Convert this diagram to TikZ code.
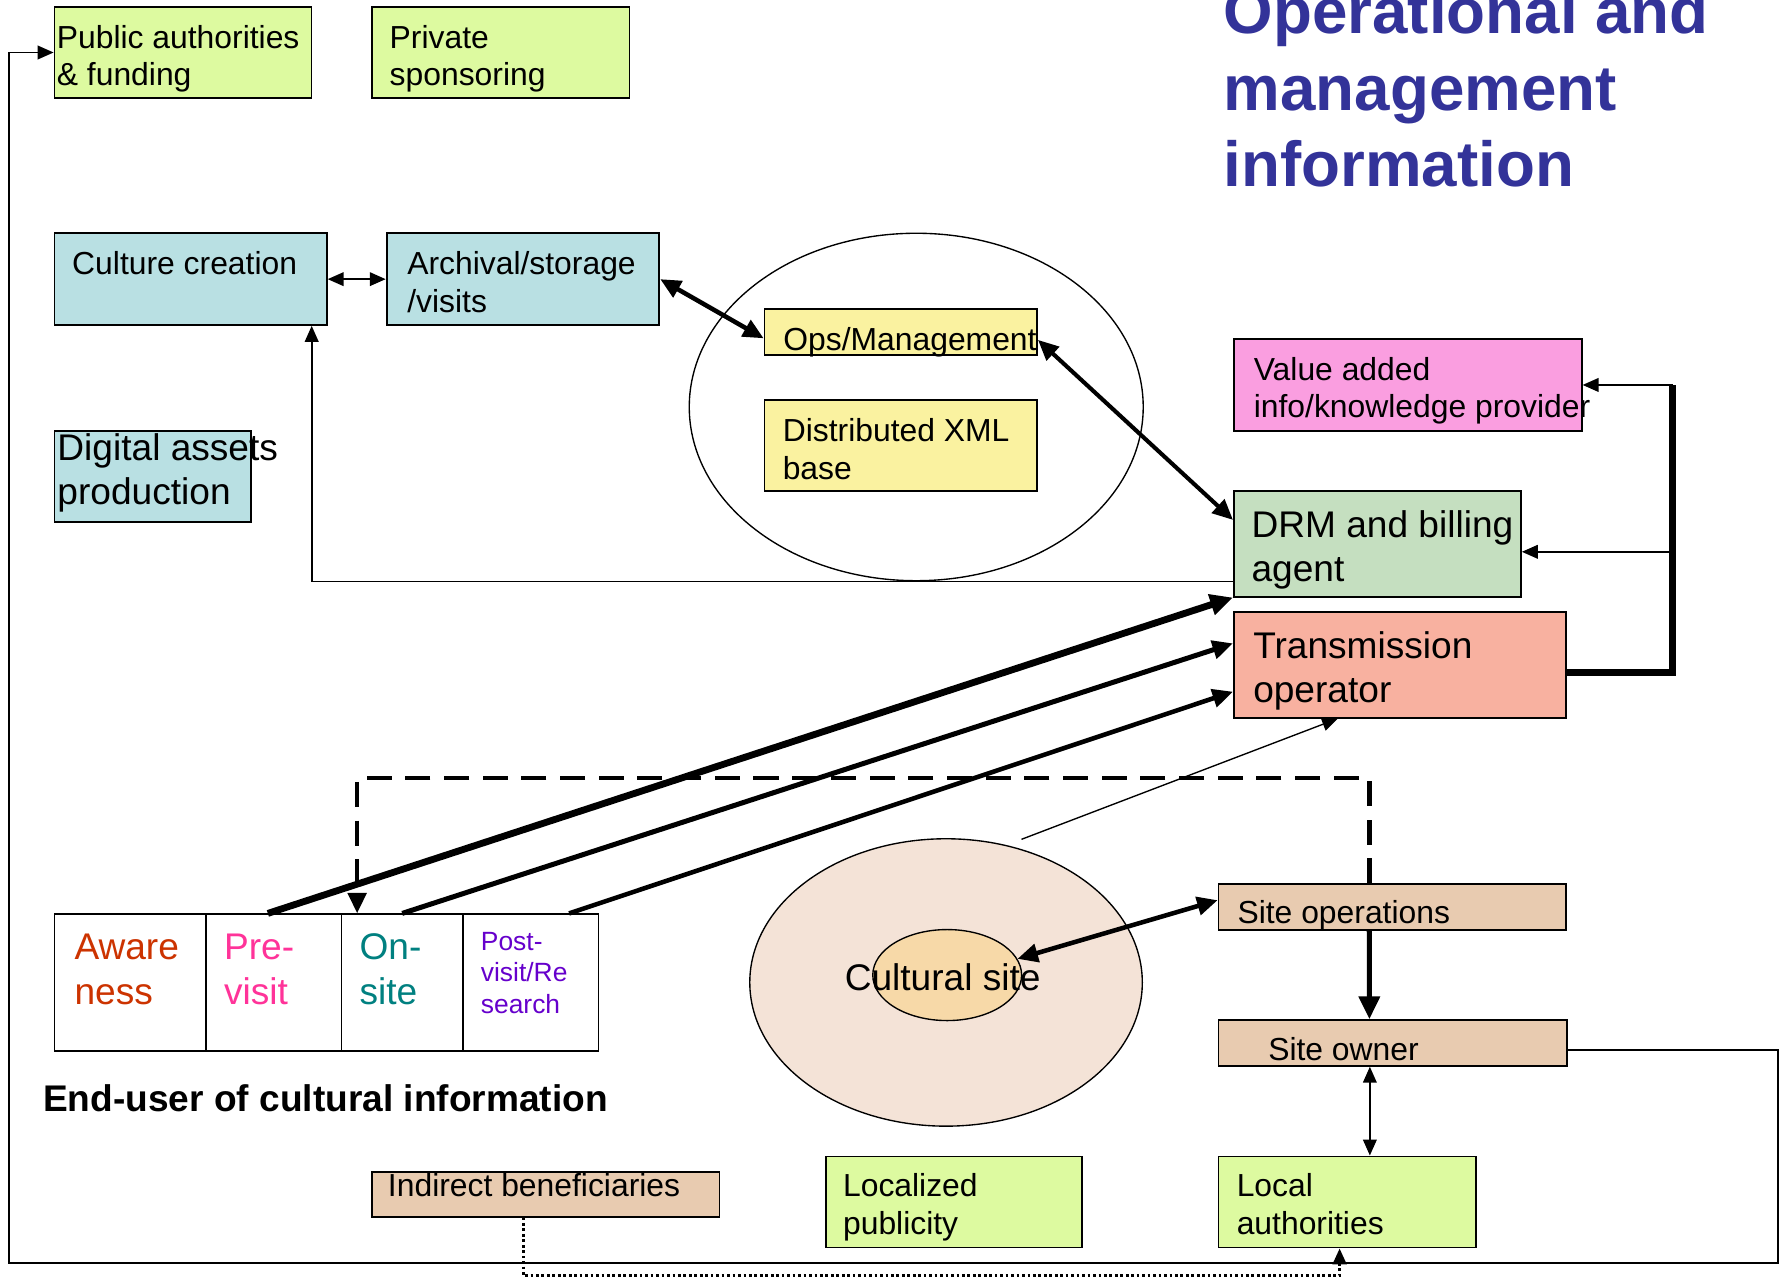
\documentclass[tikz,border=0pt]{standalone}
\usepackage{fontspec}
\setmainfont{Liberation Sans}
\usetikzlibrary{arrows.meta,fit,shapes.geometric}
\definecolor{cGreen}{RGB}{221,250,160}
\definecolor{cBlue}{RGB}{185,224,227}
\definecolor{cYellow}{RGB}{250,242,160}
\definecolor{cPink}{RGB}{250,158,224}
\definecolor{cDRM}{RGB}{197,223,192}
\definecolor{cSalmon}{RGB}{248,177,160}
\definecolor{cTan}{RGB}{232,203,176}
\definecolor{cSiteOut}{RGB}{244,227,215}
\definecolor{cSiteIn}{RGB}{247,217,168}
\definecolor{cTitle}{RGB}{51,51,153}
\definecolor{cAware}{RGB}{204,51,0}
\definecolor{cPre}{RGB}{255,51,153}
\definecolor{cOn}{RGB}{0,128,128}
\definecolor{cPost}{RGB}{102,0,204}
\tikzset{
  tipS/.tip={Triangle[length=7pt,width=6pt]},
  tipM/.tip={Triangle[length=9pt,width=8pt]},
  tipL/.tip={Triangle[length=10pt,width=9pt]},
}
\begin{document}
\begin{tikzpicture}[x=0.5pt,y=-0.5pt,
  box/.style={draw, line width=0.8pt, inner sep=0pt, rectangle},
  txt/.style={anchor=north west, inner sep=0pt, outer sep=0pt, align=left},
  fa/.style={txt, font=\fontsize{14}{16.5}\selectfont, yshift=11.55pt},
  fb/.style={txt, font=\fontsize{16.3}{19.5}\selectfont, yshift=13.65pt},
  fc/.style={txt, font=\fontsize{11.6}{14}\selectfont, yshift=9.8pt},
  ttl/.style={txt, font=\fontsize{28}{33.75}\selectfont\bfseries, text=cTitle, yshift=23.63pt},
  thinl/.style={line width=0.75pt},
  dashline/.style={line width=2pt, dash pattern=on 11pt off 6pt},
  dotline/.style={line width=1.2pt, dash pattern=on 1.2pt off 1.2pt},
  oval/.style={ellipse, draw, line width=0.6pt, inner sep=0pt},
]
\useasboundingbox (0,0) rectangle (1568,1124);

% title
\node[ttl] (title) at (1075.5,29.3) {\strut Operational and\\management\\information};

% top boxes
\node[box, fill=cGreen, fit={(47.9,5.9)(273.8,86.4)}] (pub) {};
\node[fa] (pubT) at (50,42.5) {\strut Public authorities\\\& funding};
\node[box, fill=cGreen, fit={(326.8,5.9)(553.2,86.4)}] (priv) {};
\node[fa] (privT) at (342.5,42.5) {\strut Private\\sponsoring};

\node[box, fill=cBlue, fit={(47.9,205.1)(287.2,285.6)}] (cult) {};
\node[fa] (cultT) at (63.5,241.7) {\strut Culture creation};
\node[box, fill=cBlue, fit={(339.8,205.1)(579.5,285.6)}] (arch) {};
\node[fa] (archT) at (358,241.3) {\strut Archival/storage\\/visits};
\node[box, fill=cBlue, fit={(47.9,378.5)(220.6,458.5)}] (dig) {};
\node[fb] (digT) at (50.5,404.3) {\strut Digital assets\\production};

% cloud
\node[oval, minimum width=199.5pt, minimum height=152.7pt] (cloud) at (805.3,357.7) {};
\node[box, fill=cYellow, fit={(672,271.9)(911.5,312)}] (ops) {};
\node[fa] (opsT) at (688.5,308.2) {\strut Ops/Management};
\node[box, fill=cYellow, fit={(672,351.6)(911.5,431.5)}] (xml) {};
\node[fa] (xmlT) at (688,388.2) {\strut Distributed XML\\base};

% right boxes
\node[box, fill=cPink, fit={(1084.4,298.2)(1390.2,378.5)}] (val) {};
\node[fa] (valT) at (1102,334) {\strut Value added\\info/knowledge provider};
\node[box, fill=cDRM, fit={(1084.5,431.5)(1336.8,524.4)}] (drm) {};
\node[fb] (drmT) at (1100,472.3) {\strut DRM and billing\\agent};
\node[box, fill=cSalmon, fit={(1084.5,538.2)(1376.7,630.7)}] (trans) {};
\node[fb] (transT) at (1101.5,578.6) {\strut Transmission\\operator};

% end-user boxes
\node[box, fill=white, fit={(47.9,803.6)(180.9,923.4)}] (aw) {};
\node[box, fill=white, fit={(180.9,803.6)(300.1,923.4)}] (pre) {};
\node[box, fill=white, fit={(300.1,803.6)(406.9,923.4)}] (on) {};
\node[box, fill=white, fit={(406.9,803.6)(526.1,923.4)}] (post) {};
\node[fb, text=cAware] (awT) at (65.5,843.7) {\strut Aware\\ness};
\node[fb, text=cPre] (preT) at (197,843.7) {\strut Pre-\\visit};
\node[fb, text=cOn] (onT) at (316,843.7) {\strut On-\\site};
\node[fc, text=cPost] (postT) at (422.7,835) {\strut Post-\\visit/Re\\search};
\node[fb, font=\fontsize{16.3}{19.5}\selectfont\bfseries] (endT) at (38,977) {\strut End-user of cultural information};

% cultural site
\node[oval, fill=cSiteOut, minimum width=172.5pt, minimum height=126.3pt] (csite) at (831.5,863.5) {};
\node[oval, fill=cSiteIn, minimum width=65.4pt, minimum height=40pt] (cin) at (832.5,857) {};
\node[fb] (csiteT) at (742.5,870.3) {\strut Cultural site};

% site boxes
\node[box, fill=cTan, fit={(1071,777.2)(1376.7,817.2)}] (sops) {};
\node[fa] (sopsT) at (1087.7,811.9) {\strut Site operations};
\node[box, fill=cTan, fit={(1071,896.6)(1377,936.8)}] (sown) {};
\node[fa] (sownT) at (1114.7,932) {\strut Site owner};
\node[box, fill=cGreen, fit={(1071,1016.4)(1297,1096.5)}] (local) {};
\node[fa] (localT) at (1087,1052) {\strut Local\\authorities};
\node[box, fill=cGreen, fit={(725.8,1016.5)(951.2,1096.5)}] (locp) {};
\node[fa] (locpT) at (741,1052) {\strut Localized\\publicity};
\node[box, fill=cTan, fit={(327.2,1029.8)(632.4,1069.3)}] (ind) {};
\node[fa] (indT) at (341,1051.8) {\strut Indirect beneficiaries};

% connectors
\draw[thinl, tipS-tipS] (cult.east) -- (arch.west);
\draw[line width=2pt, tipM-tipM] (arch.east) -- ([yshift=-2.7pt]ops.west);
\draw[line width=1.8pt, tipM-tipM] ([yshift=-3.4pt]ops.east) -- ([yshift=10.5pt]drm.west);
\draw[thinl, -tipS] ([yshift=-16.6pt]drm.west) -| ([xshift=53.2pt]cult.south);

\draw[dashline, -tipM] ([xshift=-10.2pt]sops.north) |- ([xshift=-19.8pt,yshift=59.6pt]on.north) -- ([xshift=-19.8pt]on.north);

\draw[line width=3pt, -tipL] ([xshift=-2.55pt]pre.north) -- (drm.south west);
\draw[line width=2.2pt, -tipM] (on.north) -- ([yshift=9.5pt]trans.west);
\draw[line width=2pt, -tipM] ([xshift=16.85pt]post.north) -- ([yshift=-11.75pt]trans.west);

\coordinate (csTop) at (897.8,737.7);
\draw[line width=0.6pt, -tipS] (csTop) -- ([xshift=-27.3pt]trans.south);

\coordinate (barTop) at (1470,338.35);
\coordinate (barMid) at (1470,485);
\draw[line width=2.8pt] ([yshift=-3.3pt]trans.east) -| (barTop);
\draw[thinl, -tipS] (barTop) -- (val.east);
\draw[thinl, -tipS] (barMid) -- (drm.east |- barMid);

\draw[line width=2pt, tipM-tipM] (cin.13) -- ([yshift=3pt]sops.west);
\draw[line width=2.2pt, -tipL] ([xshift=-10.2pt]sops.south) -- ([xshift=-10.2pt]sown.north);
\coordinate (sownB) at ([xshift=-10pt]sown.south);
\draw[thinl, tipS-tipS] (sownB) -- (sownB |- local.north);

\coordinate (loopR) at (1563,1109.8);
\coordinate (loopL) at (7.8,1109.8);
\draw[thinl, -tipS] ([yshift=-3.2pt]sown.east) -| (loopR) -- (loopL) |- (pub.west);

\coordinate (indB) at ([xshift=-10pt]ind.south);
\coordinate (locB) at ([xshift=-3.3pt]local.south);
\coordinate (dotLvl) at (0,1121.2);
\draw[dotline, -tipS] (indB) -- (indB |- dotLvl) -| (locB);
\end{tikzpicture}
\end{document}
